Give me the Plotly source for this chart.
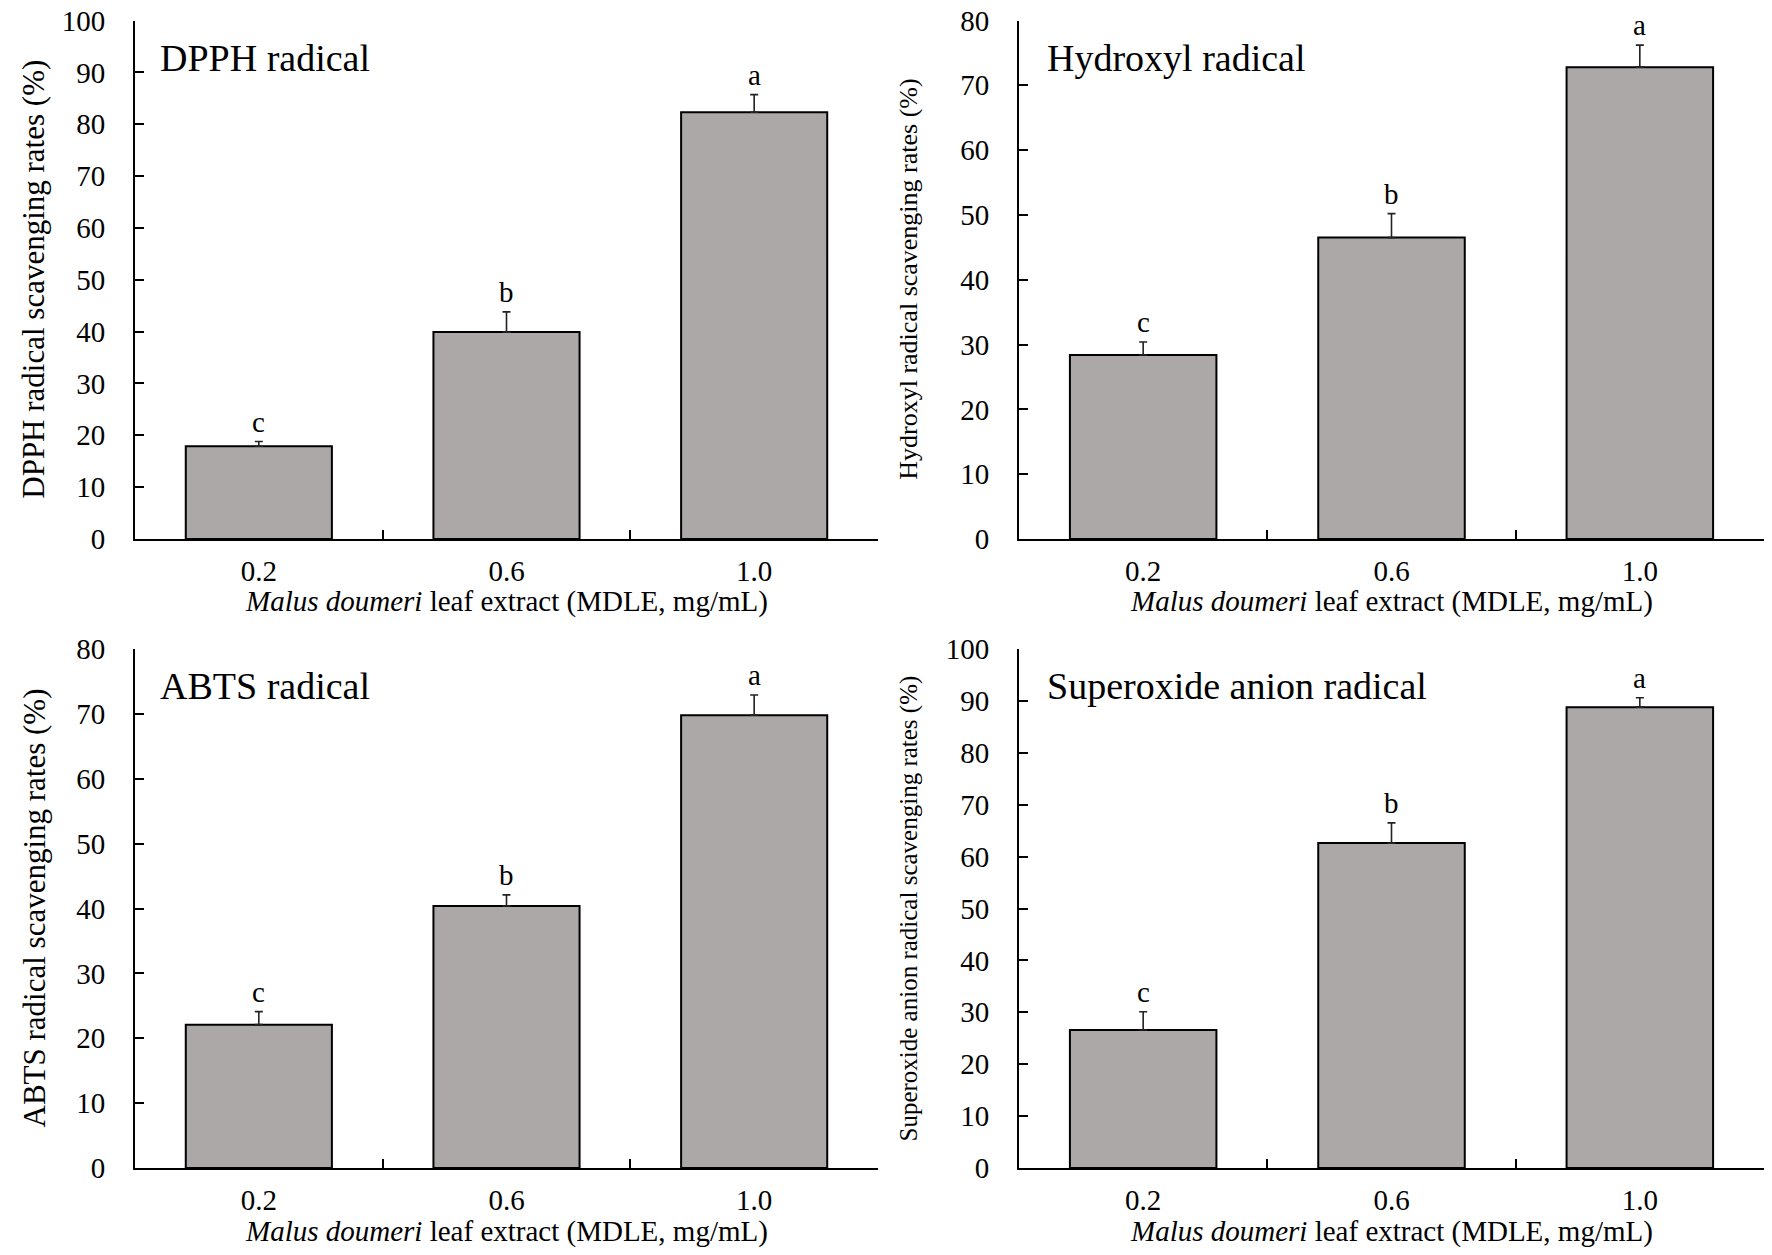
import plotly.graph_objects as go

# ---- data ----
concentrations = ["0.2", "0.6", "1.0"]

dpph_values = [17.9, 39.9, 82.3]
dpph_errors = [0.9, 3.9, 3.4]
dpph_letters = ["c", "b", "a"]

hydroxyl_values = [28.4, 46.5, 72.8]
hydroxyl_errors = [2.0, 3.7, 3.4]
hydroxyl_letters = ["c", "b", "a"]

abts_values = [22.1, 40.4, 69.8]
abts_errors = [2.0, 1.7, 3.1]
abts_letters = ["c", "b", "a"]

superoxide_values = [26.6, 62.6, 88.8]
superoxide_errors = [3.5, 3.9, 1.8]
superoxide_letters = ["c", "b", "a"]

panel_titles = ["DPPH radical", "Hydroxyl radical", "ABTS radical", "Superoxide anion radical"]
y_titles = [
    "DPPH radical scavenging rates (%)",
    "Hydroxyl radical scavenging rates (%)",
    "ABTS radical scavenging rates (%)",
    "Superoxide anion radical scavenging rates (%)",
]
y_maxes = [100, 80, 80, 100]
x_title = "<i>Malus doumeri</i> leaf extract (MDLE, mg/mL)"

# ---- layout constants ----
W, H = 1772, 1255
FONT = "Liberation Serif, Times New Roman, serif"
BAR_COLOR = "#aca8a8"

x_domains = [(135 / W, 878 / W), (1019 / W, 1764 / W)]
y_domains = [(1 - 539 / H, 1 - 20.5 / H), (1 - 1168 / H, 1 - 649 / H)]

panels = [
    (dpph_values, dpph_errors, dpph_letters, 0, 0),
    (hydroxyl_values, hydroxyl_errors, hydroxyl_letters, 0, 1),
    (abts_values, abts_errors, abts_letters, 1, 0),
    (superoxide_values, superoxide_errors, superoxide_letters, 1, 1),
]
y_title_sizes = [31, 26, 31, 25]

fig = go.Figure()
annotations = []

for i, (vals, errs, letters, r, c) in enumerate(panels):
    n = i + 1
    xa = "x" if n == 1 else f"x{n}"
    ya = "y" if n == 1 else f"y{n}"
    fig.add_trace(go.Bar(
        x=concentrations, y=vals, xaxis=xa, yaxis=ya,
        width=0.59,
        marker=dict(color=BAR_COLOR, line=dict(color="black", width=2)),
        error_y=dict(type="data", array=errs, arrayminus=[0] * len(errs),
                     symmetric=False, color="#222222", thickness=1.6, width=4),
        showlegend=False, hoverinfo="skip",
    ))
    xkey = "xaxis" if n == 1 else f"xaxis{n}"
    ykey = "yaxis" if n == 1 else f"yaxis{n}"
    fig.update_layout(**{
        xkey: dict(
            domain=list(x_domains[c]), anchor=ya, type="category",
            range=[-0.5, 2.5], showline=True, linecolor="black", linewidth=2,
            ticks="inside", tickson="boundaries", ticklen=9, tickwidth=2,
            tickcolor="black", showgrid=False, zeroline=False, automargin=False,
            tickfont=dict(family=FONT, size=29, color="black"),
            ticklabelstandoff=5,
        ),
        ykey: dict(
            domain=list(y_domains[r]), anchor=xa, range=[0, y_maxes[i]],
            dtick=10, showline=True, linecolor="black", linewidth=2,
            ticks="inside", ticklen=9, tickwidth=2, tickcolor="black",
            showgrid=False, zeroline=False, automargin=False,
            tickfont=dict(family=FONT, size=29, color="black"),
            ticklabelstandoff=22,
        ),
    })
    # significance letters (category index positions)
    for k, (v, e, L) in enumerate(zip(vals, errs, letters)):
        annotations.append(dict(
            x=k, y=v + e, xref=xa, yref=ya, text=L, showarrow=False,
            yanchor="bottom", yshift=2,
            font=dict(family=FONT, size=29, color="black"),
        ))
    # panel title
    x0 = x_domains[c][0]
    y1 = y_domains[r][1]
    annotations.append(dict(
        x=x0 + (23 / W if c == 0 else 26 / W), y=y1 - 37 / H, xref="paper", yref="paper",
        text=panel_titles[i], showarrow=False, xanchor="left", yanchor="middle",
        font=dict(family=FONT, size=38, color="black"),
    ))
    # y-axis title
    annotations.append(dict(
        x=(34 if c == 0 else 909) / W, y=(y_domains[r][0] + y_domains[r][1]) / 2,
        xref="paper", yref="paper", text=y_titles[i], textangle=-90,
        showarrow=False, xanchor="center", yanchor="middle",
        font=dict(family=FONT, size=y_title_sizes[i], color="black"),
    ))
    # x-axis title
    annotations.append(dict(
        x=(x_domains[c][0] + x_domains[c][1]) / 2,
        y=y_domains[r][0] - 63 / H, xref="paper", yref="paper",
        text=x_title, showarrow=False, xanchor="center", yanchor="middle",
        font=dict(family=FONT, size=29, color="black"),
    ))

fig.update_layout(
    template="none",
    width=W, height=H, margin=dict(l=0, r=0, t=0, b=0, autoexpand=False),
    plot_bgcolor="white", paper_bgcolor="white",
    annotations=annotations, bargap=0.41, showlegend=False,
)

fig.write_html(
    "out.html",
    config={"displayModeBar": False, "staticPlot": True},
    post_script=(
        "var gd=document.getElementById('{plot_id}');"
        "gd.style.position='fixed';gd.style.top='0px';gd.style.left='0px';"
        "document.body.style.margin='0';document.body.style.overflow='hidden';"
    ),
)
